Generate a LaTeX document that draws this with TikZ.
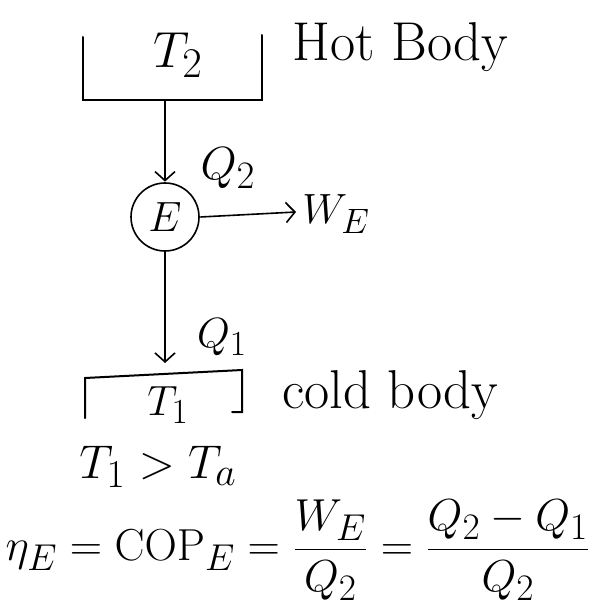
\documentclass[tikz,border=0pt]{standalone}
\usepackage{amsmath}
\usetikzlibrary{arrows.meta}
\tikzset{
  wall/.style={line width=2pt, line cap=round},
  flow/.style={line width=1.6pt, -{Straight Barb[length=9pt,width=20pt,line width=1.6pt]}},
  lbl/.style={font=\Huge, scale=1.7, inner sep=0pt},
  word/.style={font=\Huge, scale=2.2, inner sep=0pt, anchor=west}
}
\begin{document}
\begin{tikzpicture}[x=1pt, y=-1pt]
  \useasboundingbox (0,0) rectangle (602,609);
  % hot reservoir
  \draw[wall] (83,37) -- (83,100) -- (262,100) -- (262,35);
  \coordinate (hot) at (165,100);
  \node[lbl, scale=1.2] (T2) at (178,55) {$T_2$};
  \node[word] (hotlbl) at (292,47) {Hot Body};
  % engine
  \node[draw, circle, line width=1.6pt, minimum size=40pt, lbl] (E) at (165,217) {$E$};
  \draw[flow] (hot) -- (E.north);
  \node[lbl, scale=1.1] (Q2) at (228,168) {$Q_2$};
  \coordinate (wout) at (296,212);
  \draw[flow] (E.east) -- (wout);
  \node[lbl, anchor=west] (WE) at (302,214) {$W_E$};
  % cold reservoir
  \draw[wall] (85,418) -- (85,378) -- (242,370) -- (242,412) -- (232,412);
  \coordinate (cold) at (165,363);
  \draw[flow] (E.south) -- (cold);
  \node[lbl] (Q1) at (222,337) {$Q_1$};
  \node[lbl] (T1) at (168,405) {$T_1$};
  \node[word, scale=1.0] (coldlbl) at (282,395) {cold body};
  % relations
  \node[lbl, scale=1.12] (ineq) at (158,467) {$T_1 > T_a$};
  \node[lbl, scale=1.06] (eff) at (298,550)
    {$\eta_E = \mathrm{COP}_E = \dfrac{W_E}{Q_2} = \dfrac{Q_2 - Q_1}{Q_2}$};
\end{tikzpicture}
\end{document}
